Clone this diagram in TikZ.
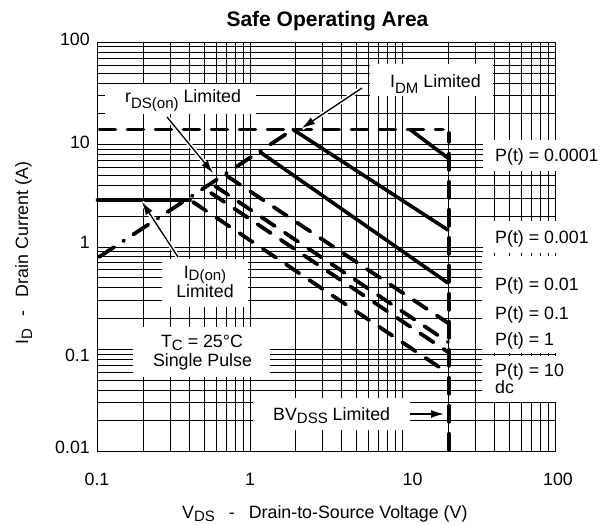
\documentclass[tikz,border=0pt]{standalone}
\usepackage{fontspec}
\setmainfont{Liberation Sans}
\usetikzlibrary{arrows.meta}
\newcommand\sbs[2][5.5pt]{\raisebox{-#1}{\fontsize{15}{15}\selectfont #2}}
\tikzset{
  gridline/.style={line width=1pt, black},
  mask/.style={fill=white},
  solidcurve/.style={line width=3.6pt, line cap=round},
  dashcurve/.style={line width=3.8pt, line cap=round, dash pattern=on 16pt off 12pt},
  dashdotcurve/.style={line width=3.8pt, line cap=round, dash pattern=on 18pt off 11pt on 1pt off 11pt},
  callout/.style={line width=1.3pt, -{Latex[length=13pt,width=8pt]}, preaction={draw=white, line width=4.5pt, -}},
  lbl/.style={inner sep=0pt, font=\fontsize{17.8}{20}\selectfont},
}
\begin{document}
\begin{tikzpicture}[x=1pt,y=-1pt]
\useasboundingbox (0,0) rectangle (600,525);
% grid
\foreach \d in {0,1,2}{\foreach \m in {1,...,9}{
  \draw[gridline] ({97.5+152.5*(\d+log10(\m))},42.3) -- ++(0,409.4);}}
\draw[gridline] (555,42.3) -- (555,451.7);
\foreach \d in {0,1,2,3}{\foreach \m in {1,...,9}{
  \draw[gridline] (97.5,{451.7-102.35*(\d+log10(\m))}) -- (555,{451.7-102.35*(\d+log10(\m))});}}
\draw[gridline] (97.5,42.3) -- (555,42.3);
% white label areas
\fill[mask] (105,84) rectangle (256,114);
\fill[mask] (370,64) rectangle (493,96);
\fill[mask] (483,140) rectangle (560,171);
\fill[mask] (483,221) rectangle (560,253);
\fill[mask] (482,256) rectangle (560,352.5);
\fill[mask] (482,356) rectangle (560,402);
\fill[mask] (162,259) rectangle (248,307);
\fill[mask] (133,327) rectangle (270,377);
\fill[mask] (253,398) rectangle (410,430);
% curve points
\coordinate (idmL) at (99.4,129.5);
\coordinate (idmR) at (443,129.5);
\coordinate (peak) at (293,129.5);
\coordinate (rdsL) at (99,257);
\coordinate (idonL) at (97.5,200);
\coordinate (idonR) at (190,200);
\coordinate (bvT) at (449,133);
\coordinate (bvB) at (449,449.8);
\coordinate (pa0) at (410,129.5);  \coordinate (pa1) at (448,158);
\coordinate (pb1) at (448,230);
\coordinate (pc0) at (260,152);    \coordinate (pc1) at (448,283);
\coordinate (pd0) at (227,176);    \coordinate (pd1) at (448,323);
\coordinate (pe0) at (215,186);    \coordinate (pe1) at (448,342);
\coordinate (pf0) at (211,193);    \coordinate (pf1) at (448,352);
\coordinate (pg0) at (193,202);    \coordinate (pg1) at (448,373);
% curves
\draw[dashcurve] (idmL) -- (idmR);
\draw[dashdotcurve] (rdsL) -- (peak);
\draw[solidcurve] (idonL) -- (idonR);
\draw[solidcurve] (pa0) -- (pa1);
\draw[solidcurve] (peak) -- (pb1);
\draw[solidcurve] (pc0) -- (pc1);
\draw[dashcurve] (pd0) -- (pd1);
\draw[dashcurve] (pe0) -- (pe1);
\draw[dashcurve] (pf0) -- (pf1);
\draw[dashcurve] (pg0) -- (pg1);
\draw[dashcurve] (bvB) -- (bvT);
% title and axes
\node[lbl, font=\bfseries\fontsize{21}{24}\selectfont, anchor=base] (title) at (327.5,26.7) {Safe Operating Area};
\node[lbl, anchor=base east] (y100) at (90,45) {100};
\node[lbl, anchor=base east] (y10) at (90,148) {10};
\node[lbl, anchor=base east] (y1) at (90,248) {1};
\node[lbl, anchor=base east] (y01) at (90,361.7) {0.1};
\node[lbl, anchor=base east] (y001) at (90,453) {0.01};
\node[lbl, anchor=base] (x01) at (97,485) {0.1};
\node[lbl, anchor=base] (x1) at (250,485) {1};
\node[lbl, anchor=base] (x10) at (412.5,485) {10};
\node[lbl, anchor=base] (x100) at (558,485) {100};
\node[lbl, anchor=base west] (xlabel) at (182,518) {V\sbs[3.5pt]{DS}\hspace{14pt}-\hspace{14pt}Drain-to-Source Voltage (V)};
\node[lbl, rotate=90, anchor=base west] (ylabel) at (28,345) {I\sbs[4pt]{D}\hspace{13pt}-\hspace{13pt}Drain Current (A)};
% curve labels
\node[lbl, anchor=base west] (p1) at (495,161.5) {P(t) = 0.0001};
\node[lbl, anchor=base west] (p2) at (495,243) {P(t) = 0.001};
\node[lbl, anchor=base west] (p3) at (495,290) {P(t) = 0.01};
\node[lbl, anchor=base west] (p4) at (495,319) {P(t) = 0.1};
\node[lbl, anchor=base west] (p5) at (495,345) {P(t) = 1};
\node[lbl, anchor=base west] (p6) at (495,376) {P(t) = 10};
\node[lbl, anchor=base west] (p7) at (495,393.3) {dc};
\node[lbl, anchor=base west] (rdslabel) at (125,102.7) {r\sbs{DS(on)} Limited};
\node[lbl, anchor=base west] (idmlabel) at (390,87.3) {I\sbs[6pt]{DM} Limited};
\node[lbl, anchor=base] (idonlabel) at (205,278) {I\sbs[2.5pt]{D(on)}};
\node[lbl, anchor=base] (idonlabel2) at (205,297.5) {Limited};
\node[lbl, anchor=base] (tclabel) at (202,347) {T\sbs[3pt]{C} = 25°C};
\node[lbl, anchor=base] (splabel) at (202.5,366.7) {Single Pulse};
\node[lbl, anchor=base west] (bvlabel) at (273,420.5) {BV\sbs[3pt]{DSS} Limited};
% callout arrows
\coordinate (ar1s) at (167,117); \coordinate (ar1e) at (213,173);
\coordinate (ar2s) at (362,88);  \coordinate (ar2e) at (302,128);
\coordinate (ar3s) at (178,257); \coordinate (ar3e) at (142,202);
\coordinate (ar4s) at (410,414); \coordinate (ar4e) at (444,414);
\draw[callout] (ar1s) -- (ar1e);
\draw[callout] (ar2s) -- (ar2e);
\draw[callout] (ar3s) -- (ar3e);
\draw[callout] (ar4s) -- (ar4e);
\end{tikzpicture}
\end{document}
